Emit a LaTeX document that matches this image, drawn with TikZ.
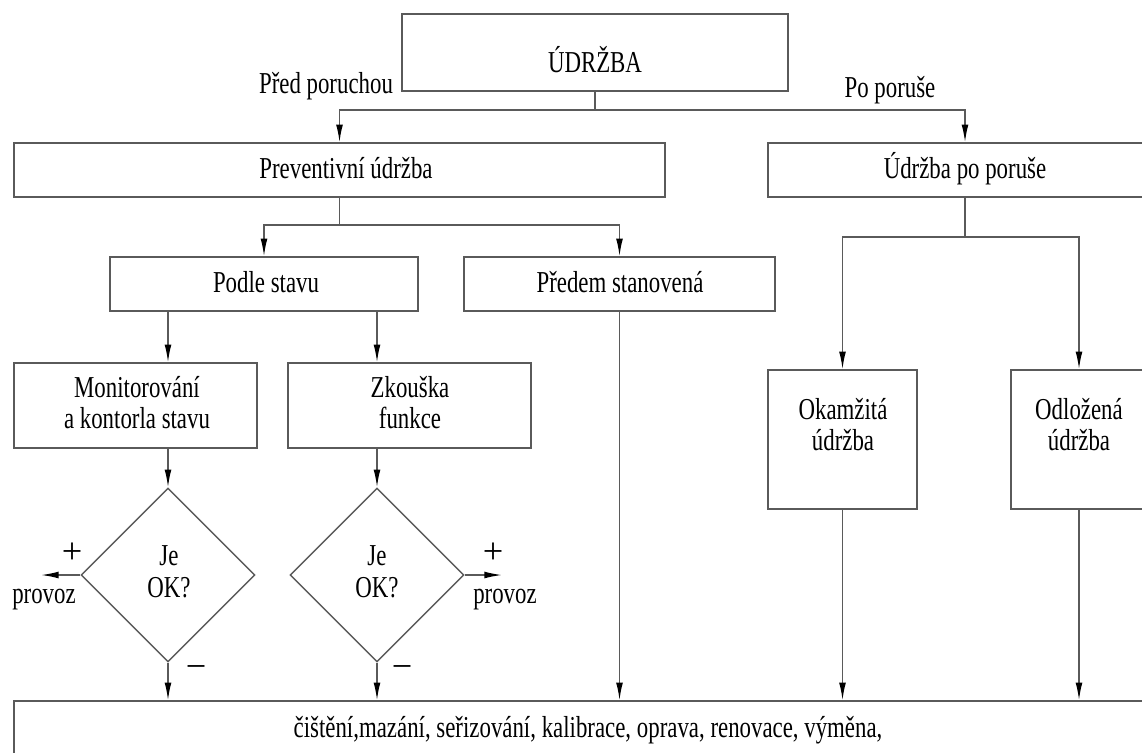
\documentclass[tikz,border=0pt]{standalone}
\usepackage{fontspec}
\setmainfont{Liberation Serif}
\usetikzlibrary{shapes.geometric,arrows.meta}
\definecolor{linegray}{HTML}{5A5A5A}
\newcommand\vst[1]{\scalebox{1}[1.33]{#1}}
\tikzset{
  boxnode/.style={draw=linegray, line width=1.25pt, rectangle, inner sep=0pt},
  decnode/.style={draw=linegray, line width=1.25pt, diamond, aspect=1, inner sep=0pt, minimum width=5.22cm, minimum height=5.22cm},
  txt/.style={inner sep=0pt, anchor=base, font=\fontsize{19.5}{26}\selectfont, text=black},
  sign/.style={inner sep=0pt, anchor=center, font=\fontsize{31}{34}\selectfont, text=black},
  conn/.style={draw=linegray, line width=1.25pt},
  arr/.style={conn, -{Latex[length=15pt,width=5.8pt,color=black]}},
}
\begin{document}
\begin{tikzpicture}[x=0.03cm,y=-0.03cm]
\useasboundingbox (0,0) rectangle (1142,752);
\clip (0,0) rectangle (1142,752);
\fill[white] (0,0) rectangle (1142,752);

% boxes
\node[boxnode, minimum width=11.58cm, minimum height=2.31cm] (udrzba) at (595,52.5) {};
\node[boxnode, minimum width=19.53cm, minimum height=1.62cm] (prev) at (339.5,170) {};
\node[boxnode, minimum width=11.82cm, minimum height=1.62cm] (po) at (965,170) {};
\node[boxnode, minimum width=9.24cm, minimum height=1.62cm] (podle) at (264,284) {};
\node[boxnode, minimum width=9.33cm, minimum height=1.62cm] (predem) at (619.5,284) {};
\node[boxnode, minimum width=7.29cm, minimum height=2.55cm] (mon) at (135.5,405.5) {};
\node[boxnode, minimum width=7.29cm, minimum height=2.55cm] (zk) at (409.5,405.5) {};
\node[boxnode, minimum width=4.47cm, minimum height=4.17cm] (okam) at (842.5,439.5) {};
\node[boxnode, minimum width=4.08cm, minimum height=4.17cm] (odl) at (1079,439.5) {};
\node[boxnode, minimum width=34.68cm, minimum height=2.37cm] (bot) at (592,740.5) {};
\node[decnode] (d1) at (168,575) {};
\node[decnode] (d2) at (377,575) {};

% texts
\node[txt] (t-udrzba) at (595,72) {\vst{ÚDRŽBA}};
\node[txt] (t-pred) at (326,93) {\vst{Před poruchou}};
\node[txt] (t-po) at (890,97) {\vst{Po poruše}};
\node[txt] (t-prev) at (346,178) {\vst{Preventivní údržba}};
\node[txt] (t-popor) at (965,178) {\vst{Údržba po poruše}};
\node[txt] (t-podle) at (266,292) {\vst{Podle stavu}};
\node[txt] (t-predem) at (620,292) {\vst{Předem stanovená}};
\node[txt] (t-mon1) at (137,397) {\vst{Monitorování}};
\node[txt] (t-mon2) at (137,428) {\vst{a kontorla stavu}};
\node[txt] (t-zk1) at (410,397) {\vst{Zkouška}};
\node[txt] (t-zk2) at (410,428) {\vst{funkce}};
\node[txt] (t-ok1) at (843,419) {\vst{Okamžitá}};
\node[txt] (t-ok2) at (843,450) {\vst{údržba}};
\node[txt] (t-od1) at (1079,419) {\vst{Odložená}};
\node[txt] (t-od2) at (1079,450) {\vst{údržba}};
\node[txt] (t-je1) at (169,565) {\vst{Je}};
\node[txt] (t-je2) at (169,597) {\vst{OK?}};
\node[txt] (t-je3) at (377,565) {\vst{Je}};
\node[txt] (t-je4) at (377,597) {\vst{OK?}};
\node[txt] (t-prov1) at (44,603) {\vst{provoz}};
\node[txt] (t-prov2) at (505,603) {\vst{provoz}};
\node[sign] (t-plus1) at (72,553) {+};
\node[sign] (t-plus2) at (493,553) {+};
\node[sign] (t-minus1) at (196,672) {−};
\node[sign] (t-minus2) at (402,672) {−};
\node[txt] (t-bot) at (588,737) {\vst{čištění,mazání, seřizování, kalibrace, oprava, renovace, výměna,}};

% connectors
\coordinate (j1) at (595,110);
\coordinate (j2) at (339.5,225);
\coordinate (j3) at (965,237);
\coordinate (pl) at (41,575);
\coordinate (pr) at (502,575);
\draw[conn] (udrzba.south) -- (j1);
\draw[arr] (j1) -| (prev.north);
\draw[arr] (j1) -| (po.north);
\draw[conn] (prev.south) -- (j2);
\draw[arr] (j2) -| (podle.north);
\draw[arr] (j2) -| (predem.north);
\draw[conn] (po.south) -- (j3);
\draw[arr] (j3) -| (okam.north);
\draw[arr] (j3) -| (odl.north);
\draw[arr] (podle.south -| d1.north) -- (mon.north -| d1.north);
\draw[arr] (podle.south -| d2.north) -- (zk.north -| d2.north);
\draw[arr] (mon.south -| d1.north) -- (d1.north);
\draw[arr] (zk.south -| d2.north) -- (d2.north);
\draw[arr] (d1.west) -- (pl);
\draw[arr] (d2.east) -- (pr);
\draw[arr] (d1.south) -- (bot.north -| d1.south);
\draw[arr] (d2.south) -- (bot.north -| d2.south);
\draw[arr] (predem.south) -- (bot.north -| predem.south);
\draw[arr] (okam.south) -- (bot.north -| okam.south);
\draw[arr] (odl.south) -- (bot.north -| odl.south);
\end{tikzpicture}
\end{document}
